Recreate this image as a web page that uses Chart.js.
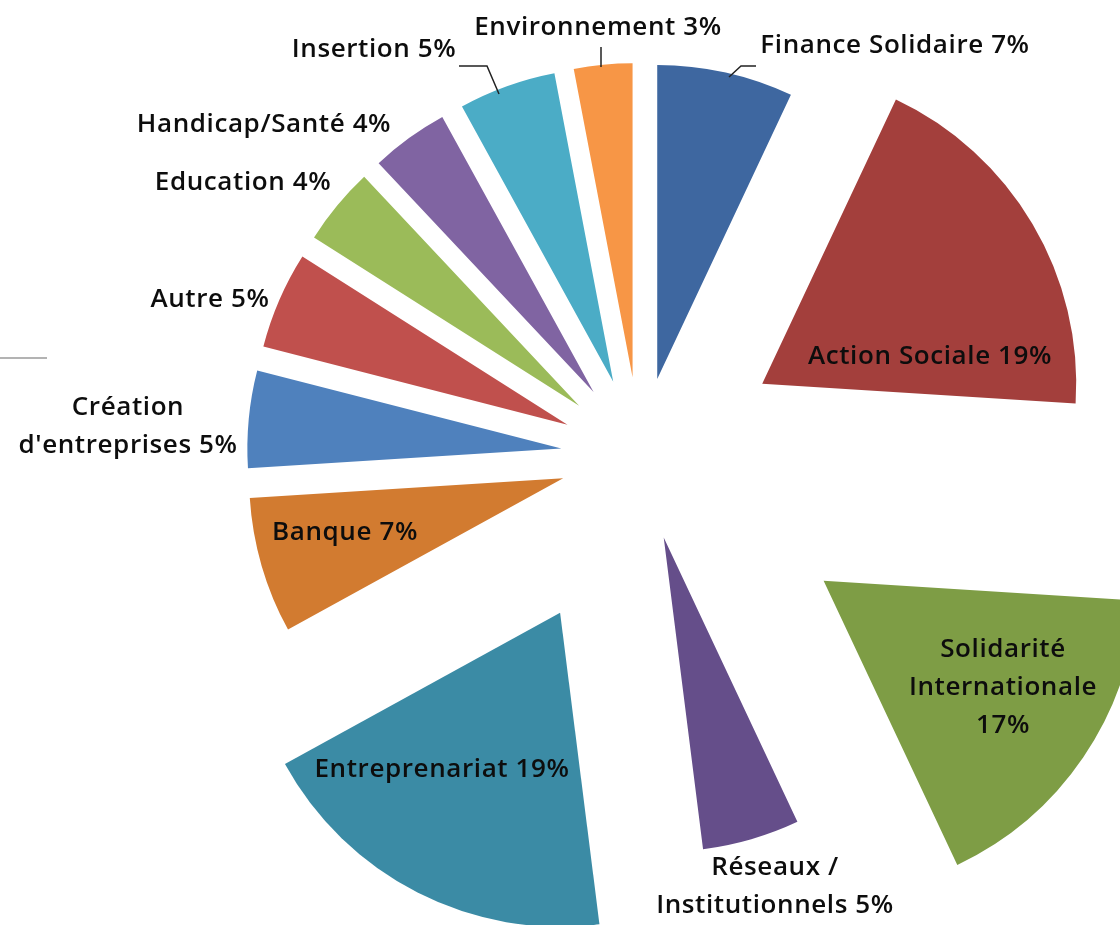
<!DOCTYPE html>
<html>
<head>
<meta charset="utf-8">
<script src="https://cdn.jsdelivr.net/npm/chart.js@4.4.1/dist/chart.umd.min.js"></script>
<style>
  html, body { margin: 0; padding: 0; background: #fff; }
  #wrap { width: 1120px; height: 925px; position: relative; }
</style>
</head>
<body>
<div id="wrap"><canvas id="c"></canvas></div>
<script>
// ── Données ───────────────────────────────────────────────────────────────

const LABELS = [
  'Finance Solidaire', 'Action Sociale', 'Solidarité Internationale',
  'Réseaux / Institutionnels', 'Entreprenariat', 'Banque',
  "Création d'entreprises", 'Autre', 'Education', 'Handicap/Santé',
  'Insertion', 'Environnement',
];
const VALUES = [7, 19, 17, 5, 19, 7, 5, 5, 4, 4, 5, 3];

// libellés découpés en lignes (le % est ajouté à la dernière)
const LABEL_WRAP = [
  ['Finance Solidaire'], ['Action Sociale'], ['Solidarité', 'Internationale', ''],
  ['Réseaux /', 'Institutionnels'], ['Entreprenariat'], ['Banque'],
  ['Création', "d'entreprises"], ['Autre'], ['Education'], ['Handicap/Santé'],
  ['Insertion'], ['Environnement'],
];

// ── Style ─────────────────────────────────────────────────────────────────

const COLORS = [
  '#3E67A0', '#A33F3C', '#7E9D45', '#654E8A', '#3B8BA5', '#D27B30',
  '#4F81BD', '#C0504D', '#9BBB59', '#8064A2', '#4BACC6', '#F79646',
];
const EXPLODE = [79, 142, 222, 85, 176, 80, 79, 79, 79, 79, 79, 79]; // px
const RADIUS = 314;

// centre de la 1re ligne de chaque libellé
const LABEL_POS = [
  [895, 46], [930, 357], [1003, 650], [775, 868], [442, 770], [345, 533],
  [128, 408], [210, 300], [243, 183], [264, 125], [374, 50], [598, 28],
];
const LINE_H = 38;

// traits de rappel
const LEADERS = [
  [[459, 66], [487, 66], [499, 94]],
  [[601, 47], [601, 67]],
  [[756, 66], [741, 66], [729, 77]],
];

// ── Plugins ───────────────────────────────────────────────────────────────

// Éclatement façon Excel : chaque part glisse le long de sa bissectrice
const explodePlugin = {
  id: 'explode',
  afterDatasetUpdate(chart, args) {
    const meta = args.meta;
    const { left, right, top, bottom } = chart.chartArea;
    const cx = (left + right) / 2;
    const cy = (top + bottom) / 2;
    meta.data.forEach((arc, i) => {
      const mid = (arc.startAngle + arc.endAngle) / 2;
      arc.x = cx + Math.cos(mid) * EXPLODE[i];
      arc.y = cy + Math.sin(mid) * EXPLODE[i];
    });
  },
};

const labelPlugin = {
  id: 'sliceLabels',
  afterDraw(chart) {
    const { ctx } = chart;
    ctx.save();

    // petit trait gris à gauche
    ctx.beginPath();
    ctx.moveTo(0, 358);
    ctx.lineTo(47, 358);
    ctx.strokeStyle = '#9a9a9a';
    ctx.lineWidth = 1.5;
    ctx.stroke();

    // traits de rappel
    ctx.strokeStyle = '#222';
    ctx.lineWidth = 1.5;
    LEADERS.forEach(pts => {
      ctx.beginPath();
      pts.forEach(([x, y], j) => (j ? ctx.lineTo(x, y) : ctx.moveTo(x, y)));
      ctx.stroke();
    });

    ctx.fillStyle = '#0d0d0d';
    ctx.font = '600 26px "Open Sans"';
    ctx.letterSpacing = '0.6px';
    ctx.textAlign = 'center';
    ctx.textBaseline = 'middle';
    LABEL_WRAP.forEach((lines, i) => {
      const [x, y] = LABEL_POS[i];
      lines.forEach((line, j) => {
        let txt = line;
        if (j === lines.length - 1) txt = (line ? line + ' ' : '') + VALUES[i] + '%';
        ctx.fillText(txt, x, y + j * LINE_H);
      });
    });
    ctx.restore();
  },
};

// ── Graphique ─────────────────────────────────────────────────────────────

new Chart(document.getElementById('c'), {
  type: 'pie',
  plugins: [explodePlugin, labelPlugin],
  data: {
    labels: LABELS,
    datasets: [{
      data: VALUES,
      backgroundColor: COLORS,
      borderWidth: 0,
      clip: false,
    }],
  },
  options: {
    responsive: true,
    maintainAspectRatio: false,
    animation: false,
    events: [],
    radius: RADIUS,
    layout: { padding: { left: 160, right: 0, top: 0, bottom: 13 } },
    plugins: {
      legend: { display: false },
      tooltip: { enabled: false },
    },
  },
});
</script>
</body>
</html>
